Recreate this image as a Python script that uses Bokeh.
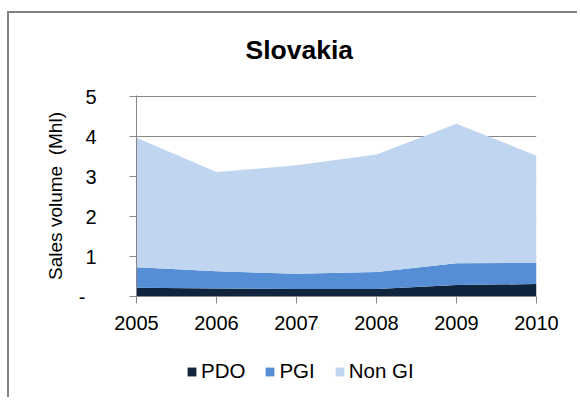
from bokeh.plotting import figure
from bokeh.layouts import column
from bokeh.models import ColumnDataSource, Range1d, FixedTicker, Legend, LegendItem, Title
from bokeh.embed import file_html
from bokeh.resources import INLINE

# ---- data ----
years = [2005, 2006, 2007, 2008, 2009, 2010]
pdo = [0.22, 0.20, 0.19, 0.19, 0.29, 0.31]
pgi = [0.51, 0.43, 0.38, 0.42, 0.54, 0.53]
non_gi = [3.24, 2.48, 2.71, 2.94, 3.49, 2.68]
series_names = ["PDO", "PGI", "Non GI"]
y_ticks = [0, 1, 2, 3, 4, 5]
title_text = "Slovakia"
y_label = "Sales volume \u00a0(Mhl)"

colors = ["#10243E", "#558ED5", "#C0D5F0"]
FONT = "Liberation Sans"
GRAY = "#868686"
stack_cols = ["pdo", "pgi", "non_gi"]

src = ColumnDataSource(dict(year=years, pdo=pdo, pgi=pgi, non_gi=non_gi))

p = figure(width=568, height=330, output_backend="svg", toolbar_location=None,
           x_range=Range1d(years[0], years[-1]), y_range=Range1d(y_ticks[0], y_ticks[-1] + 0.025),
           min_border_left=127, min_border_right=41, min_border_top=82, min_border_bottom=47,
           outline_line_color=None, background_fill_color="white", border_fill_color="white")

rs = p.varea_stack(stack_cols, x="year", color=colors, source=src)

p.xgrid.visible = False
p.ygrid.grid_line_color = GRAY
p.ygrid.grid_line_width = 1

p.yaxis.ticker = FixedTicker(ticks=y_ticks)
p.yaxis.major_label_overrides = {0: "-\u00a0\u00a0"}
p.yaxis.major_label_standoff = 33
p.yaxis.axis_label = y_label
p.yaxis.axis_label_standoff = 10
p.yaxis.axis_label_text_font = FONT
p.yaxis.axis_label_text_font_size = "19px"
p.yaxis.axis_label_text_font_style = "normal"
p.yaxis.axis_label_text_color = "#000000"

p.xaxis.ticker = FixedTicker(ticks=years)
p.xaxis.major_label_overrides = {y: str(y) for y in years}
p.xaxis.major_label_standoff = 12

for ax in (p.xaxis, p.yaxis):
    ax.axis_line_color = GRAY
    ax.major_tick_line_color = GRAY
    ax.major_tick_out = 7
    ax.major_tick_in = 0
    ax.minor_tick_line_color = None
    ax.major_label_text_font = FONT
    ax.major_label_text_font_size = "20px"
    ax.major_label_text_color = "#000000"

# spacer between frame and title, then the title itself
p.add_layout(Title(text=" ", text_font_size="1px", standoff=28), "above")
p.add_layout(Title(text=title_text, align="left", offset=109, standoff=0, text_font=FONT,
                   text_font_size="26.5px", text_font_style="bold", text_color="#000000"), "above")

# legend-only strip (its areas fall outside its visible range)
lf = figure(width=568, height=54, output_backend="svg", toolbar_location=None,
            x_axis_type=None, y_axis_type=None, min_border=0,
            x_range=Range1d(years[0], years[-1]), y_range=Range1d(100, 101),
            outline_line_color=None, background_fill_color="white", border_fill_color="white")
lf.grid.visible = False
lrs = lf.varea_stack(stack_cols, x="year", color=colors, source=src)

legend = Legend(items=[LegendItem(label=n, renderers=[r]) for n, r in zip(series_names, lrs)],
                orientation="horizontal", location=(50, 14), glyph_width=11, glyph_height=11,
                label_standoff=4, spacing=19, padding=0, margin=0, border_line_color=None,
                background_fill_alpha=0, label_text_font=FONT, label_text_font_size="20.5px",
                label_text_color="#000000")
lf.add_layout(legend, "center")

layout = column(p, lf, spacing=0,
                styles={"border-left": "2px solid #808080", "border-top": "2px solid #808080",
                        "margin-top": "11px", "margin-left": "7px"})

open("out.html", "w").write(file_html(layout, INLINE))
